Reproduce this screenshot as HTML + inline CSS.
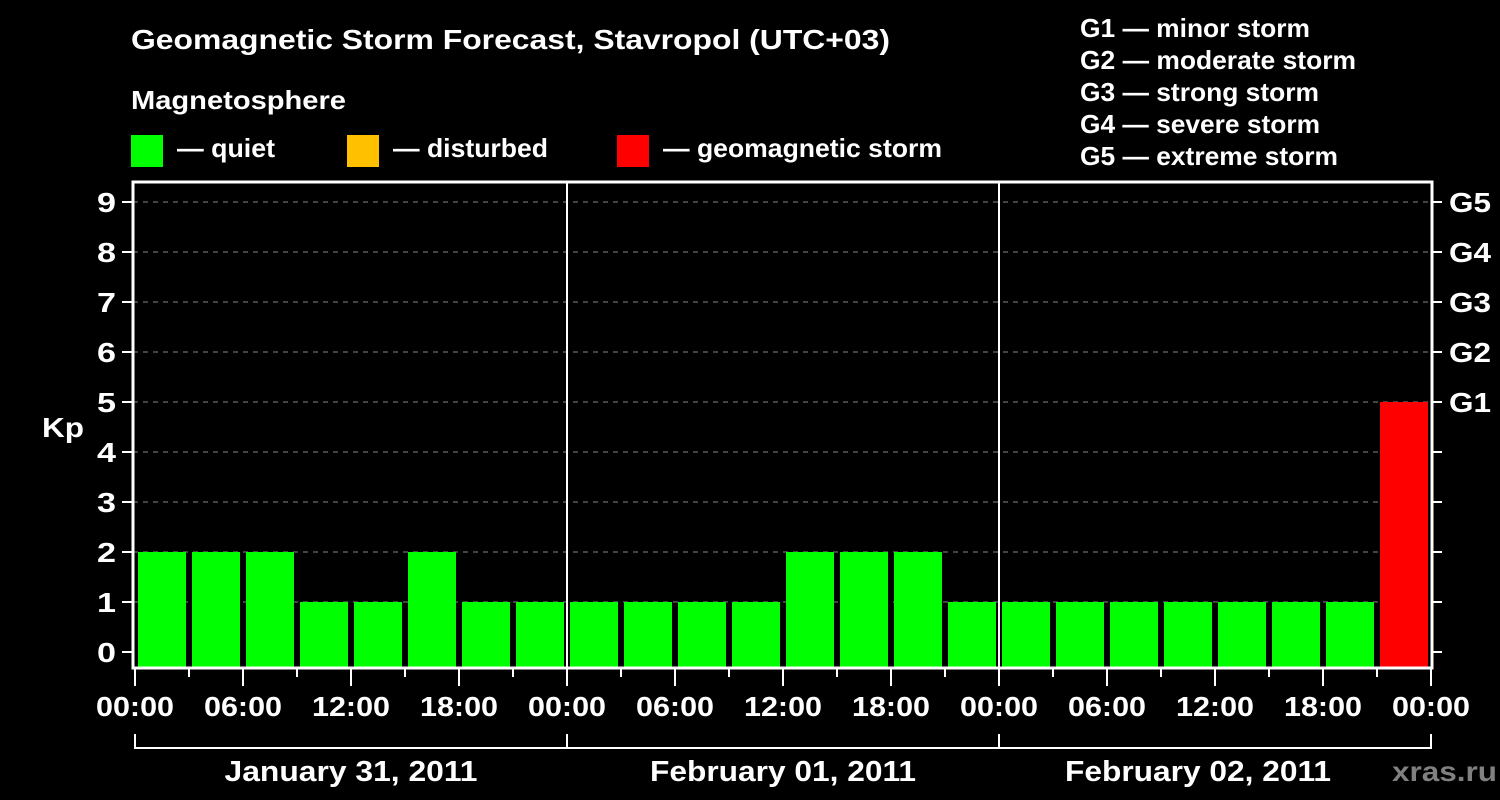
<!DOCTYPE html>
<html><head><meta charset="utf-8"><style>
body{margin:0;background:#000;}
svg{display:block;font-family:"Liberation Sans",Arial,sans-serif;font-weight:bold;}
</style></head><body>
<svg width="1500" height="800" viewBox="0 0 1500 800">
<rect width="1500" height="800" fill="#000"/>
<text x="131" y="49" fill="#fff" font-size="28" textLength="759" lengthAdjust="spacingAndGlyphs">Geomagnetic Storm Forecast, Stavropol (UTC+03)</text>
<text x="131" y="109" fill="#fff" font-size="26" textLength="215" lengthAdjust="spacingAndGlyphs">Magnetosphere</text>
<rect x="131" y="135" width="32" height="32" fill="#00ff00"/>
<text x="177" y="157" fill="#fff" font-size="26" textLength="98" lengthAdjust="spacingAndGlyphs">— quiet</text>
<rect x="347" y="135" width="32" height="32" fill="#ffc000"/>
<text x="393" y="157" fill="#fff" font-size="26" textLength="155" lengthAdjust="spacingAndGlyphs">— disturbed</text>
<rect x="617" y="135" width="32" height="32" fill="#ff0000"/>
<text x="663" y="157" fill="#fff" font-size="26" textLength="279" lengthAdjust="spacingAndGlyphs">— geomagnetic storm</text>
<g fill="#fff" font-size="26">
<text x="1080" y="37" textLength="230" lengthAdjust="spacingAndGlyphs">G1 — minor storm</text>
<text x="1080" y="69" textLength="276" lengthAdjust="spacingAndGlyphs">G2 — moderate storm</text>
<text x="1080" y="101" textLength="239" lengthAdjust="spacingAndGlyphs">G3 — strong storm</text>
<text x="1080" y="133" textLength="240" lengthAdjust="spacingAndGlyphs">G4 — severe storm</text>
<text x="1080" y="165" textLength="258" lengthAdjust="spacingAndGlyphs">G5 — extreme storm</text>
</g>
<text x="42" y="437" fill="#fff" font-size="28" textLength="42" lengthAdjust="spacingAndGlyphs">Kp</text>
<text x="1392" y="781" fill="#808080" font-size="28" textLength="105" lengthAdjust="spacingAndGlyphs">xras.ru</text>
<g id="plot"></g>
</svg>
<script>
const values=[2,2,2,1,1,2,1,1, 1,1,1,1,2,2,2,1, 1,1,1,1,1,1,1,5];
const yTicks=[0,1,2,3,4,5,6,7,8,9];
const gLabels=["G1","G2","G3","G4","G5"];
const gLevels=[5,6,7,8,9];
const xLabels=["00:00","06:00","12:00","18:00","00:00","06:00","12:00","18:00","00:00","06:00","12:00","18:00","00:00"];
const dayLabels=["January 31, 2011","February 01, 2011","February 02, 2011"];

const NS="http://www.w3.org/2000/svg";
const g=document.getElementById('plot');
const x0=135,slot=54,L=133,R=1432,T=182,B=668;
const y=v=>652-v*50;
const xs=i=>x0+i*slot;
function mk(t,a,txt){const e=document.createElementNS(NS,t);for(const k in a)e.setAttribute(k,a[k]);if(txt!=null)e.textContent=txt;g.appendChild(e);return e;}
yTicks.forEach(v=>{
 if(v>0){const l=mk('line',{x1:L,x2:R,y1:y(v),y2:y(v),stroke:'#888','stroke-dasharray':'5,5','stroke-width':1});
 }
 const t=mk('line',{x1:122,x2:L,y1:y(v),y2:y(v),stroke:'#fff','stroke-width':2});
 
 const t2=mk('line',{x1:R,x2:1442,y1:y(v),y2:y(v),stroke:'#fff','stroke-width':2});
 
 const tx=mk('text',{x:116,y:y(v)+10,fill:'#fff','font-size':28,'text-anchor':'end',textLength:19,lengthAdjust:'spacingAndGlyphs'},v);
 
});
gLabels.forEach((s,i)=>{const tx=mk('text',{x:1449,y:y(gLevels[i])+10,fill:'#fff','font-size':28,textLength:42,lengthAdjust:'spacingAndGlyphs'},s);
 });
values.forEach((v,i)=>{
 const col=v>=5?'#ff0000':(v>=4?'#ffc000':'#00ff00');
 const r=mk('rect',{x:xs(i)+3,y:y(v),width:48,height:B-y(v),fill:col});
 
});
[1,2].forEach(d=>{const l=mk('line',{x1:xs(d*8),x2:xs(d*8),y1:T,y2:B,stroke:'#fff','stroke-width':2});
 });
const fr=mk('rect',{x:L,y:T,width:R-L,height:B-T,fill:'none',stroke:'#fff','stroke-width':3});

for(let i=0;i<=24;i++){const maj=i%2==0;
 const l=mk('line',{x1:xs(i),x2:xs(i),y1:B,y2:maj?686:677,stroke:'#fff','stroke-width':2});
 }
xLabels.forEach((s,i)=>{const tx=mk('text',{x:xs(i*2),y:716,fill:'#fff','font-size':28,'text-anchor':'middle',textLength:78,lengthAdjust:'spacingAndGlyphs'},s);
 });
const br=mk('line',{x1:xs(0),x2:xs(24),y1:748,y2:748,stroke:'#fff','stroke-width':2});

for(let d=0;d<=3;d++){const l=mk('line',{x1:xs(d*8),x2:xs(d*8),y1:734,y2:749,stroke:'#fff','stroke-width':2});
 }
const dayW=[253,266,266];
dayLabels.forEach((s,d)=>{const tx=mk('text',{x:xs(d*8+4)-(d==2?17:0),y:781,fill:'#fff','font-size':29,'text-anchor':'middle',textLength:dayW[d],lengthAdjust:'spacingAndGlyphs'},s);
 });
</script>
</body></html>
